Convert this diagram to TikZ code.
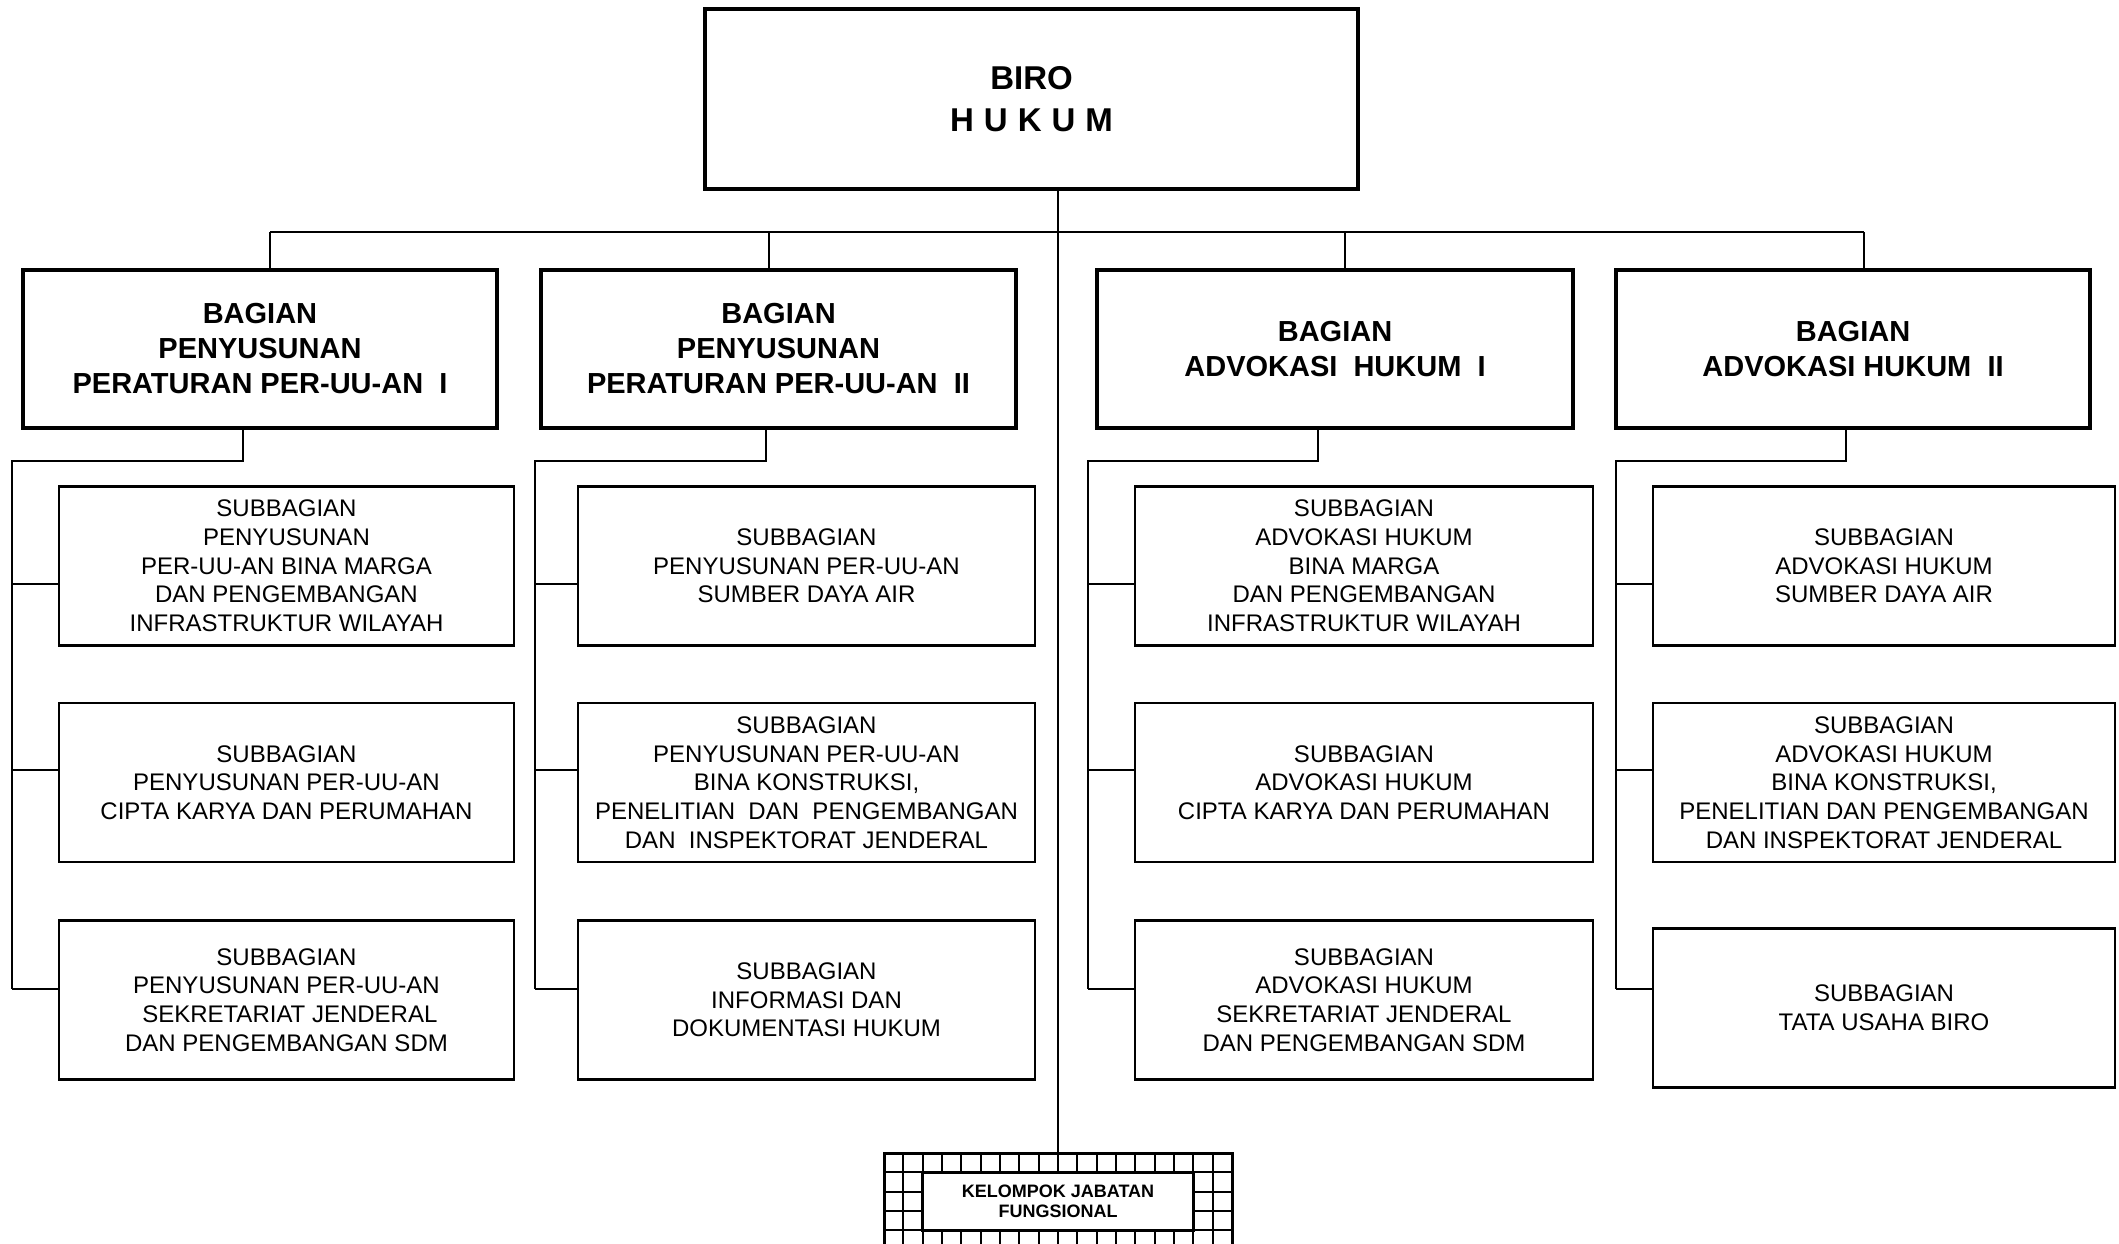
\documentclass[tikz,border=0pt]{standalone}
\usepackage{fontspec}
\setmainfont{Liberation Sans}
\begin{document}
\begin{tikzpicture}[x=1pt,y=-1pt,
  topbox/.style={draw, line width=4pt, inner sep=0pt, align=center, minimum width=653pt, minimum height=180pt, font=\bfseries\fontsize{33}{41}\selectfont},
  bagbox/.style={draw, line width=4pt, inner sep=0pt, align=center, minimum height=158pt, font=\bfseries\fontsize{29}{35}\selectfont},
  subbox/.style={draw, line width=2.5pt, inner sep=0pt, align=center, minimum height=159pt, font=\fontsize{24}{28.7}\selectfont},
  conn/.style={line width=2pt},
  gridln/.style={line width=2pt},
]
\useasboundingbox (0,0) rectangle (2119,1243);

% top
\node[topbox] (top) at (1031.5,99) {BIRO\\[1pt]H\hspace{10pt}U\hspace{10pt}K\hspace{10pt}U\hspace{10pt}M};

% bagian
\node[bagbox, minimum width=474pt] (b1) at (260,349) {BAGIAN\\PENYUSUNAN\\PERATURAN PER-UU-AN\ \ I};
\node[bagbox, minimum width=475pt] (b2) at (778.5,349) {BAGIAN\\PENYUSUNAN\\PERATURAN PER-UU-AN\ \ II};
\node[bagbox, minimum width=476pt] (b3) at (1335,349) {BAGIAN\\ADVOKASI\ \ HUKUM\ \ I};
\node[bagbox, minimum width=474pt] (b4) at (1853,349) {BAGIAN\\ADVOKASI HUKUM\ \ II};

% subbagian column 1
\node[subbox, minimum width=455pt] (s11) at (286.5,566) {SUBBAGIAN\\PENYUSUNAN\\PER-UU-AN BINA MARGA\\DAN PENGEMBANGAN\\INFRASTRUKTUR WILAYAH};
\node[subbox, minimum width=455pt] (s12) at (286.5,782.5) {SUBBAGIAN\\PENYUSUNAN PER-UU-AN\\CIPTA KARYA DAN PERUMAHAN};
\node[subbox, minimum width=455pt] (s13) at (286.5,1000) {SUBBAGIAN\\PENYUSUNAN PER-UU-AN\\\ SEKRETARIAT JENDERAL\\DAN PENGEMBANGAN SDM};
% column 2
\node[subbox, minimum width=457pt] (s21) at (806.5,566) {SUBBAGIAN\\PENYUSUNAN PER-UU-AN\\SUMBER DAYA AIR};
\node[subbox, minimum width=457pt] (s22) at (806.5,782.5) {SUBBAGIAN\\PENYUSUNAN PER-UU-AN\\BINA KONSTRUKSI,\\PENELITIAN\ \ DAN\ \ PENGEMBANGAN\\DAN\ \ INSPEKTORAT JENDERAL};
\node[subbox, minimum width=457pt] (s23) at (806.5,1000) {SUBBAGIAN\\INFORMASI DAN\\DOKUMENTASI HUKUM};
% column 3
\node[subbox, minimum width=458pt] (s31) at (1364,566) {SUBBAGIAN\\ADVOKASI HUKUM\\BINA MARGA\\DAN PENGEMBANGAN\\INFRASTRUKTUR WILAYAH};
\node[subbox, minimum width=458pt] (s32) at (1364,782.5) {SUBBAGIAN\\ADVOKASI HUKUM\\CIPTA KARYA DAN PERUMAHAN};
\node[subbox, minimum width=458pt] (s33) at (1364,1000) {SUBBAGIAN\\ADVOKASI HUKUM\\SEKRETARIAT JENDERAL\\DAN PENGEMBANGAN SDM};
% column 4
\node[subbox, minimum width=462pt] (s41) at (1884,566) {SUBBAGIAN\\ADVOKASI HUKUM\\SUMBER DAYA AIR};
\node[subbox, minimum width=462pt] (s42) at (1884,782.5) {SUBBAGIAN\\ADVOKASI HUKUM\\BINA KONSTRUKSI,\\PENELITIAN DAN PENGEMBANGAN\\DAN INSPEKTORAT JENDERAL};
\node[subbox, minimum width=462pt] (s43) at (1884,1008) {SUBBAGIAN\\TATA USAHA BIRO};

% kelompok jabatan fungsional (grid frame)
\begin{scope}
\clip (0,0) rectangle (2119,1243);
\node[draw, line width=3pt, fill=white, minimum width=348pt, minimum height=97pt, inner sep=0pt] (kjf) at (1058,1201.5) {};
\foreach \i in {1,...,17} {
  \draw[gridln] (884+\i*19.333,1153) -- (884+\i*19.333,1250);
}
\foreach \j in {1,...,4} {
  \draw[gridln] (884,1153+\j*19.333) -- (1232,1153+\j*19.333);
}
\node[draw, line width=2.5pt, fill=white, minimum width=270.7pt, minimum height=58pt, inner sep=0pt, align=center, font=\bfseries\fontsize{18}{20}\selectfont] (kjfin) at (1058,1201.3) {KELOMPOK JABATAN\\FUNGSIONAL};
\end{scope}

% trunk and bus
\draw[conn] (kjf.north) -- (kjf.north |- top.south);
\coordinate (t1) at (270,232);
\coordinate (t2) at (769,232);
\coordinate (t3) at (1345,232);
\coordinate (t4) at (1864,232);
\draw[conn] (t1) -- (t4);
\draw[conn] (t1) -- (t1 |- b1.north);
\draw[conn] (t2) -- (t2 |- b2.north);
\draw[conn] (t3) -- (t3 |- b3.north);
\draw[conn] (t4) -- (t4 |- b4.north);

% drops and branches
\foreach \c/\vx/\dx in {1/12/243, 2/535/766, 3/1088/1318, 4/1616/1846} {
  \coordinate (j\c) at (\dx,461);
  \coordinate (v\c) at (\vx,461);
  \coordinate (ka\c) at (\vx,584);
  \coordinate (kb\c) at (\vx,770);
  \coordinate (kc\c) at (\vx,989);
  \draw[conn] (j\c |- b\c.south) -- (j\c) -- (v\c) -- (kc\c);
  \draw[conn] (ka\c) -- (ka\c -| s\c1.west);
  \draw[conn] (kb\c) -- (kb\c -| s\c2.west);
  \draw[conn] (kc\c) -- (kc\c -| s\c3.west);
}
\end{tikzpicture}
\end{document}
